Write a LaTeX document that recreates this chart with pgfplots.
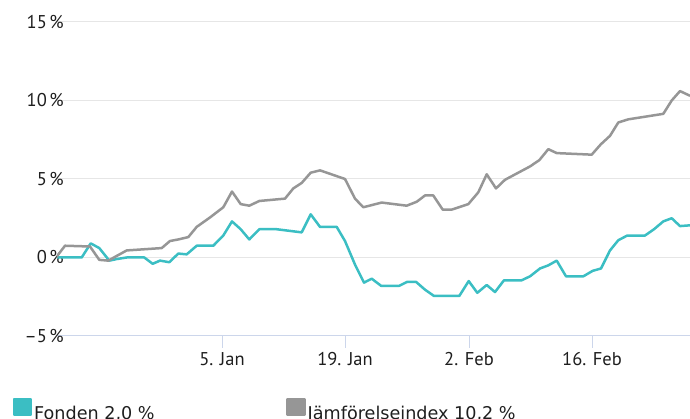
\documentclass[border=0pt]{standalone}
\usepackage{fontspec}
\setmainfont{PT Sans}
\newfontfamily\legfont{DejaVu Sans}
\usepackage{pgfplots}
\pgfplotsset{compat=1.18}
\definecolor{teal1}{RGB}{59,190,195}
\definecolor{grey1}{RGB}{150,150,150}
\definecolor{axblue}{RGB}{204,214,235}
\definecolor{gridc}{RGB}{230,230,230}
\definecolor{txt}{RGB}{30,30,30}
\newcommand{\pc}{\hspace{0.14em}\%}
\begin{document}
\begin{tikzpicture}
\path[use as bounding box] (-57pt,-83pt) rectangle (633pt,336pt);
\begin{axis}[
  scale only axis, width=633pt, height=314pt,
  xmin=57, xmax=690, ymin=-5, ymax=15,
  axis lines*=left,
  x axis line style={axblue, line width=1pt},
  y axis line style={draw=none},
  xtick={222,345,469,592},
  xticklabels={5. Jan,19. Jan,2. Feb,16. Feb},
  ytick={-5,0,5,10,15},
  yticklabels={–5\pc,0\pc,5\pc,10\pc,15\pc},
  ymajorgrids, grid style={gridc, line width=1pt},
  xtick style={axblue, line width=1pt},
  ytick style={draw=none},
  tick align=outside, major tick length=12pt,
  tick label style={font=\fontsize{18.5}{18.5}\selectfont, txt},
  yticklabel style={anchor=base east, inner sep=0pt, xshift=19pt, yshift=-6.5pt},
  xticklabel style={anchor=base, inner sep=0pt, yshift=-17.5pt},
  legend columns=2,
  legend style={at={(axis description cs:-0.075,-0.2366)}, anchor=west,
    draw=none, fill=none, font=\legfont\fontsize{17.6}{17.6}\selectfont, text=txt,
    /tikz/every even column/.append style={column sep=0pt}},
  legend image code/.code={\fill[#1] (0pt,-2pt) rectangle (17pt,14pt);},
]
\addplot[teal1, line width=2.5pt, line join=round] coordinates {
(56,0) (81.7,0) (90.7,0.9) (99.3,0.6) (109.3,-0.2) (116.7,-0.1) (126.7,0.0)
(144.3,0.0) (152.7,-0.4) (160,-0.2) (169.3,-0.3) (178.3,0.25) (186.7,0.2)
(196.7,0.75) (213.3,0.75) (223.3,1.4) (232,2.3) (240.7,1.8) (249.3,1.15)
(259.3,1.8) (276.7,1.8) (301.7,1.6) (310.7,2.75) (320,1.95) (336.7,1.95)
(345,1.05) (355,-0.45) (364,-1.6) (371.7,-1.35) (381,-1.8) (399.3,-1.8)
(407.3,-1.55) (416,-1.55) (425,-2.05) (434,-2.45) (459.3,-2.45) (468.7,-1.5)
(477.3,-2.25) (486.7,-1.75) (495,-2.2) (504,-1.45) (521.7,-1.45) (530,-1.2)
(540,-0.7) (548.3,-0.5) (556.7,-0.2) (566,-1.2) (583.3,-1.2) (592.7,-0.85)
(601,-0.7) (610,0.45) (618.3,1.1) (627.3,1.4) (645,1.4) (654,1.8)
(663.3,2.3) (671.7,2.5) (680,2.0) (690,2.05)
};
\addlegendentry{\makebox[250pt][l]{Fonden 2,0 \%}}
\addplot[grey1, line width=2.5pt, line join=round] coordinates {
(56,0) (65,0.75) (90,0.7) (99.3,-0.15) (108.3,-0.2) (116.7,0.1) (126.7,0.45)
(161.7,0.6) (170,1.05) (178.3,1.15) (188.3,1.3) (196.7,1.95) (210,2.55)
(223.3,3.2) (232,4.2) (240.7,3.4) (249.3,3.3) (259.3,3.6) (285,3.75)
(293.3,4.4) (301.7,4.75) (310.7,5.4) (320,5.55) (345,5.0) (355,3.75)
(363.3,3.2) (381.7,3.5) (406.7,3.3) (416.7,3.55) (425,3.95) (433.3,3.95)
(442.7,3.05) (451.7,3.05) (468.3,3.4) (478.3,4.15) (486.7,5.3) (496,4.4)
(505,4.95) (530,5.8) (539.3,6.2) (548.3,6.9) (556.7,6.65) (591.7,6.55)
(600.7,7.2) (610,7.75) (618.3,8.6) (628.3,8.8) (663.3,9.15) (671.7,10.0)
(680,10.6) (690,10.3)
};
\addlegendentry{Jämförelseindex 10,2 \%}
\end{axis}
\end{tikzpicture}
\end{document}
